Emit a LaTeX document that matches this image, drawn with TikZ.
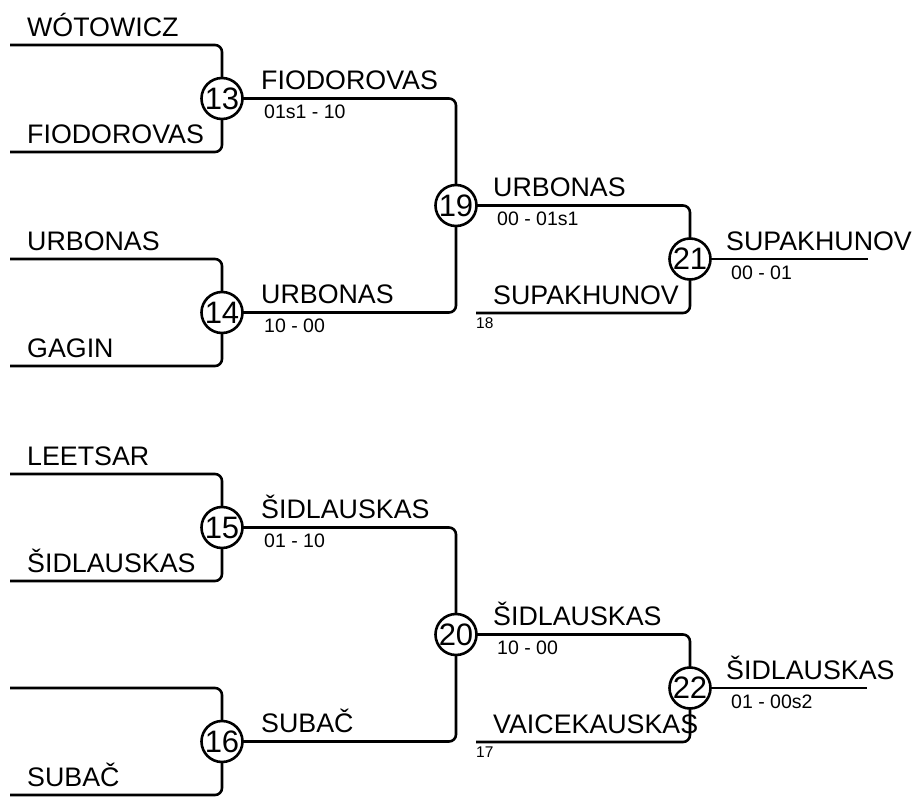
\documentclass[tikz,border=0pt]{standalone}
\usepackage{fontspec}
\setmainfont{Liberation Sans}
\begin{document}
\begin{tikzpicture}[x=1pt,y=-1pt,
  conn/.style={line width=2.6pt,rounded corners=7pt},
  mcirc/.style={circle,draw,fill=white,line width=2.6pt,minimum size=41pt,inner sep=0pt,font=\fontsize{31}{31}\selectfont},
  pname/.style={anchor=base west,inner sep=0pt,font=\fontsize{26.8}{26.8}\selectfont},
  pscore/.style={anchor=base west,inner sep=0pt,font=\fontsize{19.5}{19.5}\selectfont},
  pseed/.style={anchor=base west,inner sep=0pt,font=\fontsize{15.5}{15.5}\selectfont}]
\useasboundingbox (0,0) rectangle (914,798);
% line start coordinates
\coordinate (s0) at (10,45);
\coordinate (s1) at (10,152);
\coordinate (s2) at (10,259);
\coordinate (s3) at (10,366);
\coordinate (s4) at (10,474);
\coordinate (s5) at (10,581);
\coordinate (s6) at (10,688);
\coordinate (s7) at (10,795);
\coordinate (b18) at (476,313);
\coordinate (b17) at (476,742);
\coordinate (f21) at (868,259);
\coordinate (f22) at (867,688);
% match circles positions
\path (222,98.5) coordinate (p13) (222,312.5) coordinate (p14)
      (222,527.5) coordinate (p15) (222,741.5) coordinate (p16)
      (456,205.5) coordinate (p19) (456,634.5) coordinate (p20)
      (690,259) coordinate (p21) (690,688) coordinate (p22);
% connectors
\draw[conn] (s0) -| (p13); \draw[conn] (s1) -| (p13);
\draw[conn] (s2) -| (p14); \draw[conn] (s3) -| (p14);
\draw[conn] (s4) -| (p15); \draw[conn] (s5) -| (p15);
\draw[conn] (s6) -| (p16); \draw[conn] (s7) -| (p16);
\draw[conn] (p13) -| (p19); \draw[conn] (p14) -| (p19);
\draw[conn] (p15) -| (p20); \draw[conn] (p16) -| (p20);
\draw[conn] (p19) -| (p21); \draw[conn] (b18) -| (p21);
\draw[conn] (p20) -| (p22); \draw[conn] (b17) -| (p22);
\draw[conn] (p21) -- (f21);
\draw[conn] (p22) -- (f22);
% match nodes
\node[mcirc] (m13) at (p13) {13};
\node[mcirc] (m14) at (p14) {14};
\node[mcirc] (m15) at (p15) {15};
\node[mcirc] (m16) at (p16) {16};
\node[mcirc] (m19) at (p19) {19};
\node[mcirc] (m20) at (p20) {20};
\node[mcirc] (m21) at (p21) {21};
\node[mcirc] (m22) at (p22) {22};
% round 1 names
\node[pname] (n0) at (27,36) {WÓTOWICZ};
\node[pname] (n1) at (27,143) {FIODOROVAS};
\node[pname] (n2) at (27,250) {URBONAS};
\node[pname] (n3) at (27,357) {GAGIN};
\node[pname] (n4) at (27,465) {LEETSAR};
\node[pname] (n5) at (27,572) {ŠIDLAUSKAS};
\node[pname] (n7) at (27,786) {SUBAČ};
% round 2
\node[pname] (w13) at (261,89.5) {FIODOROVAS};
\node[pscore] (r13) at (264,118.5) {01s1 - 10};
\node[pname] (w14) at (261,303.5) {URBONAS};
\node[pscore] (r14) at (264,332.5) {10 - 00};
\node[pname] (w15) at (261,518.5) {ŠIDLAUSKAS};
\node[pscore] (r15) at (264,547.5) {01 - 10};
\node[pname] (w16) at (261,732.5) {SUBAČ};
% round 3
\node[pname] (w19) at (493,196.5) {URBONAS};
\node[pscore] (r19) at (497,225.5) {00 - 01s1};
\node[pname] (q18) at (493,304) {SUPAKHUNOV};
\node[pseed] (d18) at (476,328) {18};
\node[pname] (w20) at (493,625.5) {ŠIDLAUSKAS};
\node[pscore] (r20) at (497,654.5) {10 - 00};
\node[pname] (q17) at (493,733) {VAICEKAUSKAS};
\node[pseed] (d17) at (476,757) {17};
% final
\node[pname] (w22) at (726,679) {ŠIDLAUSKAS};
\node[pname] (w21) at (726,250) {SUPAKHUNOV};
\node[pscore] (r21) at (731,279) {00 - 01};
\node[pscore] (r22) at (731,708) {01 - 00s2};
\end{tikzpicture}
\end{document}
